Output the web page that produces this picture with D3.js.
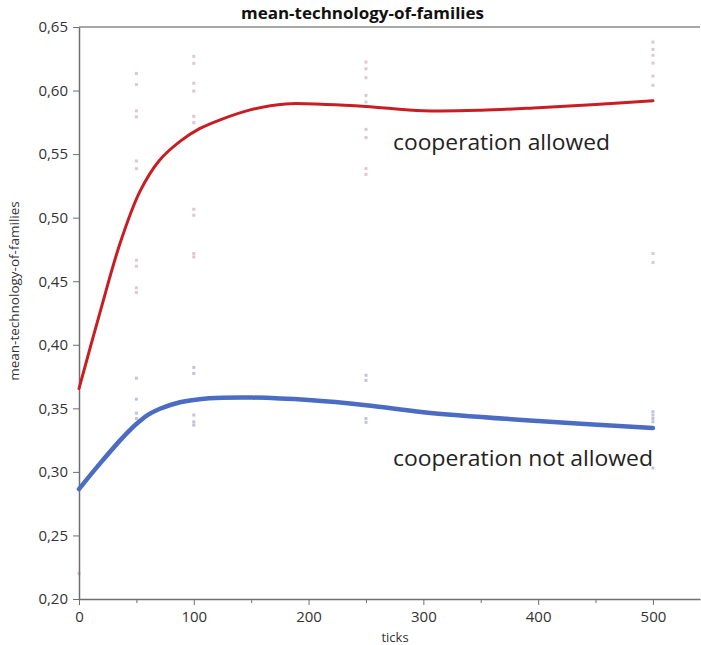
<!DOCTYPE html>
<html>
<head>
<meta charset="utf-8">
<style>
body { margin: 0; background: #fff; }
text { font-family: "Open Sans", sans-serif; fill: #333; }
.axis path, .axis line { stroke: #6e6e6e; }
</style>
</head>
<body>
<div id="chart"></div>
<script src="https://d3js.org/d3.v7.min.js"></script>
<script>
// fitted curves
const coopX = [0, 18, 36, 53, 70, 88, 105, 123, 150, 180, 215, 250, 300, 350, 400, 450, 500]
const coopY = [0.3655, 0.4245, 0.4805, 0.5205, 0.545, 0.560, 0.570, 0.577, 0.585, 0.5895, 0.589, 0.5875, 0.5842, 0.5845, 0.5865, 0.589, 0.592]
const noCoopX = [0, 18, 36, 45, 53, 60, 70, 88, 105, 125, 150, 200, 250, 300, 400, 500]
const noCoopY = [0.2865, 0.3063, 0.3250, 0.3335, 0.3400, 0.3448, 0.3495, 0.3548, 0.3572, 0.3583, 0.3585, 0.3565, 0.3525, 0.347, 0.340, 0.3345]

// individual runs
const runTicks = [0, 50, 100, 250, 500]
const coopRuns = [
    [0.22],
    [0.6134, 0.6047, 0.584, 0.5793, 0.5446, 0.5386, 0.4665, 0.4618, 0.4448, 0.4411],
    [0.6269, 0.6214, 0.6057, 0.5996, 0.5797, 0.5748, 0.5066, 0.5019, 0.4718, 0.4691],
    [0.6224, 0.6171, 0.6101, 0.5962, 0.591, 0.5695, 0.563, 0.5386, 0.5341],
    [0.6381, 0.6324, 0.6277, 0.6216, 0.6114, 0.6041, 0.4718, 0.4647]
]
const noCoopRuns = [
    [],
    [0.3737, 0.3572, 0.3462, 0.342],
    [0.3822, 0.3774, 0.3447, 0.3394, 0.3368],
    [0.376, 0.372, 0.342, 0.339],
    [0.3473, 0.3447, 0.342, 0.3394, 0.303]
]

const xTicks = [0, 100, 200, 300, 400, 500]
const xMinor = [50, 150, 250, 350, 450]
const yTicks = [0.20, 0.25, 0.30, 0.35, 0.40, 0.45, 0.50, 0.55, 0.60, 0.65]

const margin = {top: 27, right: 1, bottom: 46, left: 79}
const width = 701 - margin.left - margin.right
const height = 645 - margin.top - margin.bottom

const fmt = d3.formatLocale({decimal: ",", thousands: ".", grouping: [3], currency: ["", ""]}).format(".2f")

const x = d3.scaleLinear().domain([0, 541]).range([0, width])
const y = d3.scaleLinear().domain([0.2, 0.65]).range([height, 0])

const root = d3.select("#chart").append("svg")
    .attr("width", 701)
    .attr("height", 645)
const svg = root.append("g")
    .attr("transform", "translate(" + margin.left + "," + margin.top + ")")

// top frame line
svg.append("line")
    .attr("x1", 0).attr("x2", width)
    .attr("y1", 0).attr("y2", 0)
    .attr("stroke", "#8a8a8a")
    .attr("stroke-width", 1.5)

// scatter of runs
const dots = (runs, color) => {
    runs.forEach((vals, i) => {
        svg.selectAll(null)
            .data(vals)
            .enter()
            .append("rect")
            .attr("x", x(runTicks[i]) - 1.5)
            .attr("y", d => y(d) - 1.5)
            .attr("width", 3)
            .attr("height", 3)
            .attr("fill", color)
    })
}
dots(coopRuns, "#dfc6d3")
dots(noCoopRuns, "#c0c4da")

// x axis
svg.append("g")
    .attr("class", "axis")
    .attr("transform", "translate(0," + height + ")")
    .call(d3.axisBottom(x).tickValues(xMinor).tickSize(4).tickFormat("").tickSizeOuter(0))
    .call(g => g.select(".domain").remove())
svg.append("g")
    .attr("class", "axis")
    .attr("transform", "translate(0," + height + ")")
    .call(d3.axisBottom(x).tickValues(xTicks).tickSize(6).tickSizeOuter(0).tickPadding(6))
    .selectAll("text")
        .style("font-size", "15px")
        .style("font-family", "Open Sans")

// y axis
svg.append("g")
    .attr("class", "axis")
    .call(d3.axisLeft(y).tickValues(yTicks).tickFormat(fmt).tickSize(6).tickSizeOuter(0).tickPadding(5))
    .selectAll("text")
        .style("font-size", "15px")
        .style("font-family", "Open Sans")

svg.selectAll(".axis path").attr("stroke-width", 1.5)

// curves
const line = d3.line()
    .x(d => x(d[0]))
    .y(d => y(d[1]))
    .curve(d3.curveCatmullRom.alpha(0.5))

svg.append("path")
    .datum(d3.zip(noCoopX, noCoopY))
    .attr("d", line)
    .attr("fill", "none")
    .attr("stroke", "#4a6cc3")
    .attr("stroke-width", 4.5)
    .attr("stroke-linecap", "round")

svg.append("path")
    .datum(d3.zip(coopX, coopY))
    .attr("d", line)
    .attr("fill", "none")
    .attr("stroke", "#c91d24")
    .attr("stroke-width", 3)
    .attr("stroke-linecap", "round")

// labels on the curves
svg.append("text")
    .attr("x", 314)
    .attr("y", 123)
    .attr("textLength", 217)
    .attr("lengthAdjust", "spacingAndGlyphs")
    .style("font-size", "22px")
    .style("fill", "#222")
    .text("cooperation allowed")
svg.append("text")
    .attr("x", 314)
    .attr("y", 439)
    .attr("textLength", 260)
    .attr("lengthAdjust", "spacingAndGlyphs")
    .style("font-size", "22px")
    .style("fill", "#222")
    .text("cooperation not allowed")

// titles
root.append("text")
    .attr("x", 241)
    .attr("y", 19)
    .attr("textLength", 243)
    .attr("lengthAdjust", "spacingAndGlyphs")
    .style("font-size", "16px")
    .style("font-weight", "bold")
    .style("fill", "#111")
    .text("mean-technology-of-families")

root.append("text")
    .attr("x", 395)
    .attr("y", 642)
    .attr("text-anchor", "middle")
    .style("font-size", "13px")
    .text("ticks")

root.append("text")
    .attr("transform", "translate(19,291) rotate(-90)")
    .attr("text-anchor", "middle")
    .style("font-size", "13.5px")
    .text("mean-technology-of-families")
</script>
</body>
</html>
